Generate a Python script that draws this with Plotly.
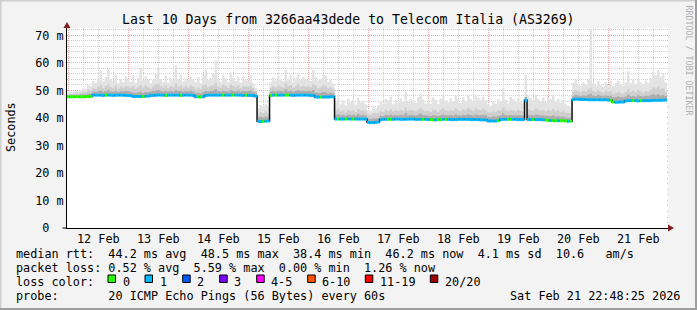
import pandas as pd
import plotly.graph_objects as go

# ---------------- data (hourly samples, first sample 2026-02-11 23:30) ----------------
start_time = "2026-02-11 23:30"

median_ms = [
    47.7,47.7,47.7,47.7,47.7,47.7,47.7,47.7,47.8,47.8,48.3,48.3,48.3,48.3,48.2,48.3,48.3,48.3,48.2,48.3,48.3,48.3,48.3,48.2,
    48.2,48.1,47.8,47.8,47.8,47.8,47.8,47.9,47.9,48.2,48.2,48.3,48.3,48.3,48.3,48.2,48.3,48.3,48.3,48.3,48.3,48.2,48.3,48.3,
    48.3,48.3,48.2,47.7,47.7,47.6,47.7,48.2,48.3,48.3,48.3,48.3,48.3,48.3,48.3,48.3,48.3,48.3,48.3,48.3,48.3,48.3,48.2,48.3,
    48.2,48.2,48.1,47.9,38.8,38.7,38.8,38.8,38.9,48.2,48.3,48.3,48.3,48.3,48.3,48.3,48.3,48.3,48.2,48.3,48.3,48.3,48.3,48.3,
    48.3,48.2,48.2,47.6,47.6,47.6,47.6,47.6,47.6,47.7,47.7,39.6,39.6,39.6,39.6,39.6,39.7,39.6,39.6,39.6,39.6,39.6,39.6,39.6,
    38.4,38.3,38.3,38.4,38.5,39.4,39.5,39.5,39.5,39.5,39.5,39.6,39.6,39.5,39.5,39.5,39.6,39.6,39.6,39.5,39.5,39.5,39.5,39.5,
    39.4,39.4,39.3,39.3,39.4,39.4,39.5,39.5,39.5,39.4,39.4,39.4,39.5,39.5,39.5,39.5,39.5,39.4,39.4,39.4,39.4,39.3,39.3,39.3,
    38.9,38.9,38.9,38.9,39.0,39.4,39.5,39.5,39.5,39.5,39.5,39.5,39.4,39.4,39.4,46.4,39.4,39.4,39.4,39.4,39.4,39.4,39.3,39.3,
    39.1,39.1,39.0,39.0,39.0,39.0,39.0,38.9,38.8,38.8,46.7,46.8,46.8,46.7,46.7,46.7,46.6,46.6,46.6,46.6,46.6,46.6,46.6,46.6,
    46.5,46.4,45.8,45.7,45.7,45.8,45.8,46.2,46.3,46.3,46.3,46.3,46.2,46.3,46.3,46.3,46.3,46.3,46.4,46.4,46.4,46.4,46.5,46.5,
]

loss_pings = [
    0,0,0,0,0,0,0,0,0,0,1,1,1,1,1,0,1,1,1,1,1,1,1,1,
    1,1,1,1,1,1,0,1,1,1,1,1,1,1,1,0,1,1,1,1,1,0,1,1,
    1,1,1,1,0,0,1,1,1,1,1,1,1,1,0,1,1,1,0,1,1,1,1,0,
    1,1,1,1,1,1,0,1,1,0,1,0,1,1,1,0,0,1,1,1,1,1,1,1,
    1,1,1,1,1,0,1,1,1,1,1,1,0,1,1,0,1,1,0,1,1,1,1,1,
    1,1,1,1,1,1,1,1,0,0,1,1,1,1,1,1,1,1,1,1,1,1,0,1,
    1,0,0,1,0,0,1,0,1,1,1,1,1,1,1,1,1,1,1,1,1,1,1,1,
    1,1,1,1,0,1,1,1,0,0,1,1,1,1,1,1,1,1,0,1,1,1,1,0,
    0,1,0,0,1,0,0,0,1,0,1,1,1,1,1,1,1,1,1,1,1,1,1,1,
    1,0,0,1,1,1,1,1,1,1,0,1,1,0,1,1,1,1,1,1,1,1,1,1,
]

smoke_max = [
    49.4,49.6,49.5,49.9,49.7,50.2,51.0,50.6,52.0,51.6,53.5,52.8,54.6,57.3,53.2,55.0,57.8,54.0,53.4,55.6,52.6,54.2,53.0,55.2,
    54.0,53.2,55.5,52.8,54.6,57.8,53.6,55.2,54.0,52.6,53.8,56.0,58.0,54.2,53.0,55.4,52.8,54.6,53.5,59.2,54.0,55.6,53.2,54.4,
    53.6,55.0,54.2,53.0,54.8,52.6,55.6,57.4,53.8,54.6,56.2,61.0,54.0,53.2,55.8,54.4,53.0,56.4,54.6,53.4,55.0,52.8,55.2,54.0,
    53.5,55.5,52.8,51.0,43.5,44.8,44.0,45.0,43.8,53.0,54.8,53.6,55.2,54.0,53.4,57.5,54.2,55.6,53.0,54.6,56.0,53.8,55.0,54.2,
    54.0,53.4,57.5,55.0,53.6,54.2,55.8,55.4,53.2,54.0,52.6,46.0,47.2,45.0,46.4,44.6,47.0,45.8,46.6,44.8,47.4,45.6,46.2,45.0,
    43.0,42.6,44.2,43.4,44.6,46.0,45.2,47.0,46.4,47.8,45.0,46.6,45.4,47.2,46.0,49.6,45.8,47.0,46.2,45.4,47.6,49.0,46.8,45.2,
    46.0,45.2,47.4,46.6,45.0,47.0,48.2,46.4,45.6,47.2,46.0,48.0,46.8,45.4,47.6,46.2,48.4,47.0,46.2,48.0,47.4,46.6,47.8,46.4,
    45.0,44.4,46.0,45.2,47.0,46.2,50.8,46.6,45.4,47.6,46.8,45.8,47.2,46.0,45.4,55.6,48.0,47.2,46.4,48.4,47.0,46.2,47.4,45.8,
    47.6,46.8,48.4,46.2,47.0,45.4,46.6,45.0,44.4,44.0,52.8,53.8,52.4,51.6,53.0,52.2,54.0,72.4,52.6,51.8,53.4,52.0,51.4,53.2,
    52.0,53.4,51.6,52.8,53.6,52.2,51.8,53.0,57.0,52.6,53.8,52.4,54.2,53.0,52.2,53.6,52.8,54.4,56.8,55.4,57.4,55.0,56.2,53.0,
]

smoke_mid = [
    48.6,48.8,48.7,49.0,48.9,49.2,49.6,49.4,50.2,50.0,51.0,50.6,51.4,52.0,50.8,51.6,52.2,51.2,50.8,51.8,50.6,51.4,51.0,51.6,
    51.4,50.8,51.6,50.6,51.2,52.0,51.0,51.8,51.2,50.6,51.4,52.2,52.4,51.6,51.0,51.8,50.8,51.6,51.2,52.6,51.4,51.8,51.0,51.6,
    51.2,51.8,51.4,50.6,51.2,50.4,51.8,52.2,51.2,51.6,52.0,52.8,51.4,51.0,52.0,51.6,51.0,52.2,51.6,51.2,51.8,50.8,51.6,51.4,
    51.4,51.8,50.8,49.8,41.6,42.2,41.8,42.4,41.6,51.0,51.6,51.2,51.8,51.4,51.0,52.6,51.6,52.0,51.0,51.6,52.2,51.4,51.8,51.4,
    51.6,51.2,52.4,51.8,50.8,51.2,51.8,51.6,50.8,51.2,50.6,42.6,43.2,42.4,42.8,42.0,43.0,42.6,42.8,42.2,43.2,42.6,42.8,42.4,
    41.4,41.2,41.8,41.6,41.8,42.4,42.2,43.0,42.6,43.2,42.4,42.8,42.4,43.0,42.6,43.8,42.6,43.0,42.8,42.4,43.2,43.6,42.8,42.4,
    42.6,42.2,43.0,42.8,42.2,43.0,43.4,42.8,42.4,43.0,42.6,43.4,42.8,42.4,43.2,42.8,43.6,43.0,42.6,43.4,43.0,42.8,43.4,42.8,
    42.2,42.0,42.6,42.2,42.8,42.6,43.8,42.8,42.4,43.0,42.8,42.4,43.0,42.6,42.4,47.2,43.2,42.8,42.6,43.4,43.0,42.6,43.0,42.4,
    43.0,42.6,43.2,42.4,42.8,42.2,42.6,42.0,41.8,41.6,49.6,50.2,49.8,49.4,50.0,49.6,50.4,51.0,49.8,49.4,50.2,49.6,49.2,50.0,
    49.4,49.8,48.8,49.2,49.6,49.0,48.8,49.4,50.6,49.4,49.8,49.2,50.2,49.6,49.2,49.8,49.4,50.2,51.2,50.6,51.4,50.4,50.8,49.6,
]

smoke_dark = [
    48.2,48.3,48.2,48.4,48.3,48.5,48.6,48.5,48.9,48.8,49.6,49.4,49.8,50.0,49.5,49.8,50.2,49.6,49.5,49.9,49.4,49.7,49.6,49.8,
    49.8,49.4,49.2,49.0,49.3,49.6,49.1,49.4,49.4,49.6,49.8,50.0,50.2,49.8,49.6,49.9,49.5,49.8,49.6,50.2,49.8,49.9,49.6,49.8,
    49.7,49.9,49.6,49.0,49.2,48.9,49.3,49.8,49.6,49.8,50.0,50.4,49.8,49.6,50.0,49.8,49.6,50.2,49.9,49.7,50.0,49.5,49.8,49.7,
    49.8,50.0,49.5,49.2,40.2,40.4,40.2,40.5,40.3,49.6,49.9,49.7,50.0,49.8,49.6,50.4,49.8,50.0,49.6,49.8,50.2,49.8,50.0,49.8,
    49.9,49.7,50.2,49.2,49.0,49.2,49.4,49.3,48.9,49.2,49.0,41.0,41.4,41.0,41.2,40.8,41.3,41.0,41.2,40.9,41.4,41.0,41.2,40.9,
    39.8,39.6,39.9,39.8,40.0,40.8,40.7,41.2,41.0,41.3,40.9,41.1,40.9,41.2,41.0,41.8,41.0,41.2,41.1,40.9,41.3,41.6,41.1,40.9,
    40.9,40.7,41.0,40.9,40.7,41.0,41.3,41.0,40.9,41.1,40.9,41.3,41.0,40.9,41.2,41.0,41.4,41.1,40.9,41.3,41.1,41.0,41.2,41.0,
    40.4,40.3,40.6,40.4,40.7,40.9,41.6,41.0,40.9,41.2,41.0,40.9,41.1,41.0,40.8,47.6,41.2,41.0,40.9,41.3,41.1,40.9,41.0,40.8,
    40.8,40.6,40.9,40.5,40.6,40.4,40.5,40.2,40.1,40.0,48.0,48.4,48.2,48.0,48.3,48.1,48.5,48.8,48.2,48.0,48.4,48.1,47.9,48.2,
    48.0,48.1,47.4,47.6,47.8,47.5,47.4,47.8,48.4,47.9,48.0,47.8,48.3,48.0,47.8,48.1,47.9,48.3,48.6,48.3,48.7,48.2,48.4,48.0,
]

y_tick_values = [0, 10, 20, 30, 40, 50, 60, 70]
y_tick_labels = ["0\u00a0\u00a0", "10 m", "20 m", "30 m", "40 m", "50 m", "60 m", "70 m"]

loss_legend = ["0", "1", "2", "3", "4-5", "6-10", "11-19", "20/20"]
loss_colors = ["#26ff00", "#00b8ff", "#0059ff", "#7e00ff", "#ff00ff", "#ff5500", "#ff0000", "#a10000"]
loss_bins = [0, 1, 2, 3, 5, 10, 19, 20]   # upper bound of each class

title = "Last 10 Days from 3266aa43dede to Telecom Italia (AS3269)"
stat_lines = [
    "median rtt:  44.2 ms avg  48.5 ms max  38.4 ms min  46.2 ms now  4.1 ms sd  10.6   am/s",
    "packet loss: 0.52 % avg  5.59 % max  0.00 % min  1.26 % now",
    "loss color:",
    "probe:       20 ICMP Echo Pings (56 Bytes) every 60s",
]
timestamp = "Sat Feb 21 22:48:25 2026"
x_range = ["2026-02-11 23:29", "2026-02-21 23:53"]

# ---------------- geometry / style ----------------
W, H = 697, 310
PL, PR, PT, PB = 67, 668, 28, 228
MONO = "DejaVu Sans Mono"


def px(x):
    return (x - PL) / (PR - PL)


def py(y):
    return (PB - y) / (PB - PT)


def nb(s):
    return s.replace(" ", "\u00a0")


n = len(median_ms)
times = pd.date_range(start_time, periods=n + 1, freq="h")
t_ext = list(times)


def ext(a):
    return list(a) + [a[-1]]


fig = go.Figure()

# smoke layers (from zero, later covered below the median)
for arr, col in [(smoke_max, "#e3e3e3"), (smoke_mid, "#cfcfcf"), (smoke_dark, "#adadad")]:
    fig.add_trace(go.Scatter(x=t_ext, y=ext(arr), mode="lines", line=dict(width=0, shape="hv"),
                             fill="tozeroy", fillcolor=col, hoverinfo="skip"))
# white below the median
fig.add_trace(go.Scatter(x=t_ext, y=ext(median_ms), mode="lines", line=dict(width=0, shape="hv"),
                         fill="tozeroy", fillcolor="#ffffff", hoverinfo="skip"))
# dark median line (shows the vertical transitions)
fig.add_trace(go.Scatter(x=t_ext, y=ext(median_ms), mode="lines",
                         line=dict(width=1.5, color="#111111", shape="hv"), hoverinfo="skip"))


def loss_class(v):
    for i, b in enumerate(loss_bins):
        if v <= b:
            return i
    return len(loss_bins) - 1


# coloured median segments by loss
for ci, col in enumerate(loss_colors):
    xs, ys = [], []
    for k in range(n):
        if loss_class(loss_pings[k]) == ci:
            xs += [times[k], times[k + 1], None]
            ys += [median_ms[k], median_ms[k], None]
    if xs:
        fig.add_trace(go.Scatter(x=xs, y=ys, mode="lines", line=dict(width=3, color=col),
                                 hoverinfo="skip"))

annotations = []
annotations.append(dict(text=title, x=px(348), y=py(19), xref="paper", yref="paper",
                        xanchor="center", yanchor="middle", showarrow=False,
                        font=dict(family=MONO, size=13.2, color="#000")))
annotations.append(dict(text="Seconds", x=px(10.5), y=py(127.5), xref="paper", yref="paper",
                        xanchor="center", yanchor="middle", showarrow=False, textangle=-90,
                        font=dict(family=MONO, size=11.8, color="#000")))
annotations.append(dict(text=nb("RRDTOOL / TOBI OETIKER"), x=px(688.5), y=py(60), xref="paper",
                        yref="paper", xanchor="center", yanchor="middle", showarrow=False,
                        textangle=90, font=dict(family=MONO, size=8.3, color="#b0b0b0")))
line_y = [254.3, 268.3, 282, 296]
for s, yy in zip(stat_lines, line_y):
    annotations.append(dict(text=nb(s), x=px(15), y=py(yy), xref="paper", yref="paper",
                            xanchor="left", yanchor="middle", showarrow=False, borderpad=0,
                            font=dict(family=MONO, size=11.8, color="#000")))
annotations.append(dict(text=nb(timestamp), x=px(680.5), y=py(296), xref="paper", yref="paper",
                        xanchor="right", yanchor="middle", showarrow=False, borderpad=0,
                        font=dict(family=MONO, size=11.8, color="#000")))

box_left = [108, 145, 182.7, 219.7, 256.7, 307.7, 365.3, 430.3]
shapes = []
for bx, lab, col in zip(box_left, loss_legend, loss_colors):
    shapes.append(dict(type="rect", xref="paper", yref="paper", x0=px(bx), x1=px(bx + 7.5),
                       y0=py(282.5), y1=py(275), fillcolor=col, line=dict(color="#000", width=1)))
    annotations.append(dict(text=nb(lab), x=px(bx + 13.5), y=py(282), xref="paper", yref="paper",
                            xanchor="left", yanchor="middle", showarrow=False, borderpad=0,
                            font=dict(family=MONO, size=11.8, color="#000")))

# arrows
shapes.append(dict(type="path", xref="paper", yref="paper",
                   path=f"M {px(668)} {py(224.5)} L {px(674)} {py(228)} L {px(668)} {py(231.5)} Z",
                   fillcolor="#7f1f1f", line=dict(width=0)))
shapes.append(dict(type="path", xref="paper", yref="paper",
                   path=f"M {px(63.5)} {py(28)} L {px(67)} {py(22)} L {px(70.5)} {py(28)} Z",
                   fillcolor="#7f1f1f", line=dict(width=0)))
# axis line extension to the left of origin
shapes.append(dict(type="line", xref="paper", yref="paper", x0=px(62.5), x1=px(67),
                   y0=py(228), y1=py(228), line=dict(color="#000", width=1)))
# frame (3-D look)
shapes.append(dict(type="line", xref="paper", yref="paper", x0=px(0), x1=px(697), y0=py(0.5), y1=py(0.5),
                   line=dict(color="#cfcfcf", width=2)))
shapes.append(dict(type="line", xref="paper", yref="paper", x0=px(0.5), x1=px(0.5), y0=py(0), y1=py(310),
                   line=dict(color="#cfcfcf", width=2)))
shapes.append(dict(type="line", xref="paper", yref="paper", x0=px(0), x1=px(697), y0=py(309), y1=py(309),
                   line=dict(color="#9e9e9e", width=2)))
shapes.append(dict(type="line", xref="paper", yref="paper", x0=px(696), x1=px(696), y0=py(0), y1=py(310),
                   line=dict(color="#9e9e9e", width=2)))

GRID_MAJ = "#f2a0a0"
GRID_MIN = "#cfcfcf"
DOT = "1px,1px"

fig.update_layout(
    width=W, height=H,
    margin=dict(l=PL, r=W - PR, t=PT, b=H - PB),
    paper_bgcolor="#f3f3f3", plot_bgcolor="#ffffff",
    showlegend=False,
    annotations=annotations, shapes=shapes,
    xaxis=dict(
        type="date", range=x_range, tick0="2026-02-12", dtick=86400000,
        ticklabelmode="period", tickformat="%d %b",
        showgrid=True, gridcolor=GRID_MAJ, griddash=DOT, gridwidth=1,
        minor=dict(dtick=21600000, tick0="2026-02-12", showgrid=True, gridcolor=GRID_MIN,
                   griddash=DOT, gridwidth=1),
        ticks="",
        showline=True, linecolor="#000", linewidth=1, zeroline=False,
        layer="above traces", fixedrange=True,
        tickfont=dict(family=MONO, size=11.8, color="#000"),
    ),
    yaxis=dict(
        range=[0, 72.7], tickmode="array", tickvals=y_tick_values, ticktext=y_tick_labels,
        showgrid=True, gridcolor=GRID_MAJ, griddash=DOT, gridwidth=1,
        minor=dict(dtick=2, showgrid=True, gridcolor=GRID_MIN, griddash=DOT, gridwidth=1),
        ticks="", showline=True, linecolor="#000", linewidth=1, zeroline=False,
        layer="above traces", fixedrange=True,
        tickfont=dict(family=MONO, size=11.8, color="#000"),
    ),
)

fig.write_html("out.html", config=dict(displayModeBar=False))
